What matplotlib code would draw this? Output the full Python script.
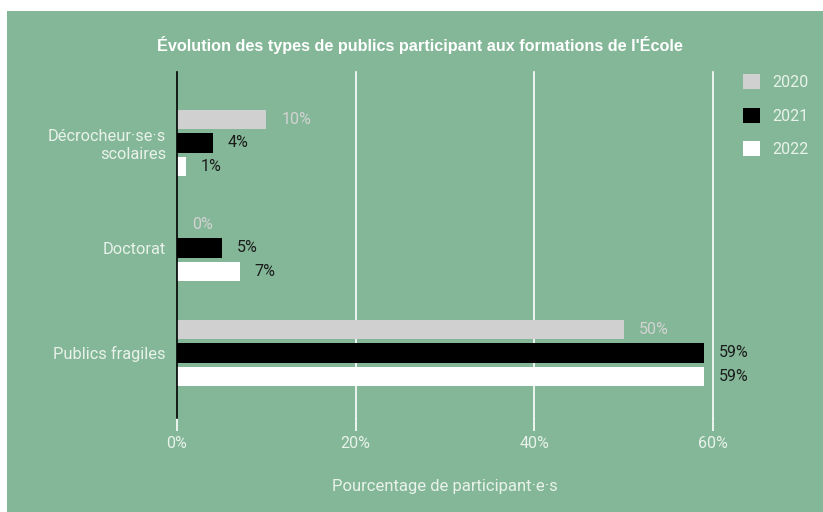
import matplotlib
matplotlib.use('Agg')
import matplotlib.pyplot as plt
import matplotlib.patches as mpatches
import numpy as np

plt.rcParams['font.family'] = ['Roboto', 'DejaVu Sans']

# Data
categories = ['Décrocheur·se·s\nscolaires', 'Doctorat', 'Publics fragiles']
years = ['2020', '2021', '2022']
values_2020 = [10, 0, 50]
values_2021 = [4, 5, 59]
values_2022 = [1, 7, 59]
x_ticks = [0, 20, 40, 60]
x_ticklabels = ['0%', '20%', '40%', '60%']

bg = '#83b797'
bar_colors = ['#d0d0d0', '#000000', '#ffffff']
label_colors = ['#d3d3d3', '#1b1b1b', '#1b1b1b']
text_color = '#e9f2ea'

fig = plt.figure(figsize=(8.23, 5.12), dpi=100, facecolor='white')
# green panel with a thin white margin top/left
fig.patches.append(mpatches.Rectangle((7/823, 0), 1, 1 - 11/512, transform=fig.transFigure,
                                      facecolor=bg, edgecolor='none', zorder=-5))

ax = fig.add_axes([177/823, 1 - 418/512, (713 - 177)/823, (418 - 72)/512])
ax.set_zorder(2)
ax.patch.set_alpha(0)

y = np.arange(len(categories))
pitch = 0.224
height = 0.185
series = [values_2020, values_2021, values_2022]
for i, vals in enumerate(series):
    pos = y + (i - 1) * pitch
    ax.barh(pos, vals, height=height, color=bar_colors[i], zorder=3, label=years[i])
    for p, v in zip(pos, vals):
        ax.text(v + 1.7, p, '%d%%' % v, va='center', ha='left', fontsize=11.5,
                color=label_colors[i], zorder=4)

ax.set_xlim(0, 60)
ax.set_ylim(2.62, -0.676)
ax.set_xticks(x_ticks)
ax.set_xticklabels(x_ticklabels, color=text_color, fontsize=11.5)
ax.set_yticks(y)
ax.set_yticklabels(categories, color=text_color, fontsize=11.8, linespacing=1.2)
ax.tick_params(axis='y', length=0, pad=8)
ax.tick_params(axis='x', length=9, width=1.2, color='white', pad=4)
ax.get_xticklines()[0].set_color('black')
ax.get_xticklines()[1].set_color('black')

for xv in x_ticks[1:]:
    ax.axvline(xv, color='white', lw=1.2, zorder=1, clip_on=False)
for s in ['top', 'right', 'bottom']:
    ax.spines[s].set_visible(False)
ax.spines['left'].set_color('black')
ax.spines['left'].set_linewidth(1.2)
ax.spines['left'].set_zorder(5)

ax.set_xlabel('Pourcentage de participant·e·s', color=text_color, fontsize=12, labelpad=20)

fig.text(420/823, 1 - 45/512, "Évolution des types de publics participant aux formations de l'École",
         ha='center', va='center', fontsize=11.7, fontweight='bold', color='white',
         family=['Liberation Sans', 'DejaVu Sans'])

# legend
handles = [mpatches.Patch(facecolor=c, edgecolor='none', label=l) for c, l in zip(bar_colors, years)]
leg = fig.legend(handles=handles, loc='upper left', bbox_to_anchor=(729/823, 1 - 60/512),
                 frameon=False, fontsize=11.5, labelspacing=1.1, handlelength=1.05,
                 handleheight=1.05, handletextpad=0.75)
for t in leg.get_texts():
    t.set_color(text_color)

plt.savefig('out.png', dpi=100, facecolor='white')
